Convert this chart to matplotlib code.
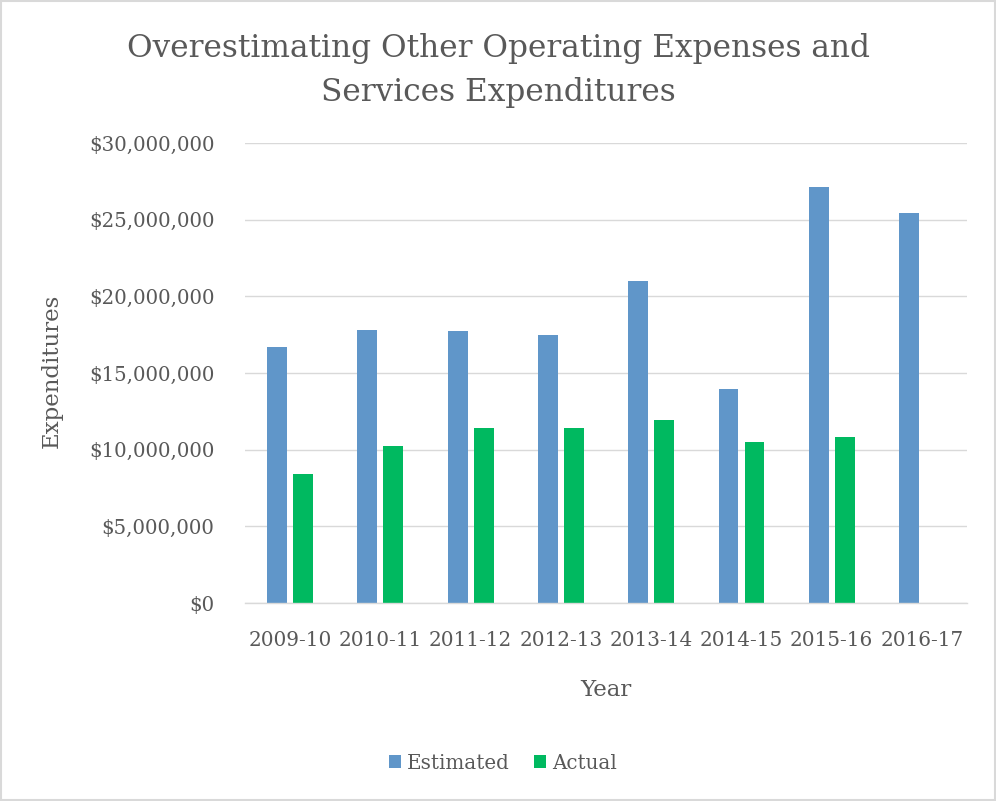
"""Bar chart of estimated vs actual other operating expenses and services expenditures."""

import matplotlib.pyplot as plt
import numpy as np
from matplotlib.patches import Rectangle
from matplotlib.ticker import FuncFormatter

YEARS = ["2009-10", "2010-11", "2011-12", "2012-13", "2013-14", "2014-15", "2015-16", "2016-17"]
ESTIMATED = [16_700_000, 17_800_000, 17_750_000, 17_450_000, 21_000_000, 13_950_000, 27_100_000, 25_450_000]
# no actual figure reported yet for 2016-17
ACTUAL = [8_400_000, 10_250_000, 11_400_000, 11_450_000, 11_950_000, 10_500_000, 10_800_000, np.nan]

TEXT_COLOR = "#595959"
GRID_COLOR = "#d9d9d9"
BLUE = "#6096c9"
GREEN = "#00b960"

plt.rcParams["font.family"] = ["DejaVu Serif"]
plt.rcParams["text.color"] = TEXT_COLOR


def dollars(value, _pos):
    return f"${value:,.0f}"


def main() -> None:
    fig = plt.figure(figsize=(9.96, 8.01), dpi=100)
    ax = fig.add_axes([0.246, 0.247, 0.725, 0.5745])

    x = np.arange(len(YEARS))
    width = 0.22
    offset = 0.144
    ax.bar(x - offset, ESTIMATED, width=width, color=BLUE, label="Estimated", zorder=3)
    ax.bar(x + offset, ACTUAL, width=width, color=GREEN, label="Actual", zorder=3)

    ax.set_xlim(-0.5, len(YEARS) - 0.5)
    ax.set_ylim(0, 30_000_000)
    ax.set_yticks(np.arange(0, 30_000_001, 5_000_000))
    ax.yaxis.set_major_formatter(FuncFormatter(dollars))
    ax.set_xticks(x)
    ax.set_xticklabels(YEARS)

    ax.grid(True, axis="y", color=GRID_COLOR, linewidth=1.0, zorder=0)
    for side in ("top", "right", "left"):
        ax.spines[side].set_visible(False)
    ax.spines["bottom"].set_color(GRID_COLOR)
    ax.spines["bottom"].set_linewidth(1.0)
    ax.spines["bottom"].set_zorder(4)

    ax.tick_params(axis="both", length=0, colors=TEXT_COLOR)
    ax.tick_params(axis="x", labelsize=14.4, pad=20)
    ax.tick_params(axis="y", labelsize=14.2, pad=22)

    ax.set_ylabel("Expenditures", fontsize=16.5, color=TEXT_COLOR)
    ax.yaxis.set_label_coords(-0.252, 0.505)
    ax.set_xlabel("Year", fontsize=16.5, color=TEXT_COLOR)
    ax.xaxis.set_label_coords(0.5, -0.165)

    fig.suptitle(
        "Overestimating Other Operating Expenses and\nServices Expenditures",
        x=0.5, y=0.912, va="center", fontsize=22.5, color=TEXT_COLOR, linespacing=1.57,
    )

    fig.legend(
        loc="center", bbox_to_anchor=(0.505, 0.0474), ncol=2, frameon=False,
        fontsize=14.3, handlelength=0.6, handleheight=0.6, handletextpad=0.3,
        columnspacing=1.25,
    )

    # light border round the chart area
    fig.patches.append(Rectangle((0.001, 0.001), 0.998, 0.998, transform=fig.transFigure,
                                 fill=False, edgecolor=GRID_COLOR, linewidth=1.5))

    fig.savefig("out.png", dpi=100)
    plt.close(fig)


if __name__ == "__main__":
    main()
